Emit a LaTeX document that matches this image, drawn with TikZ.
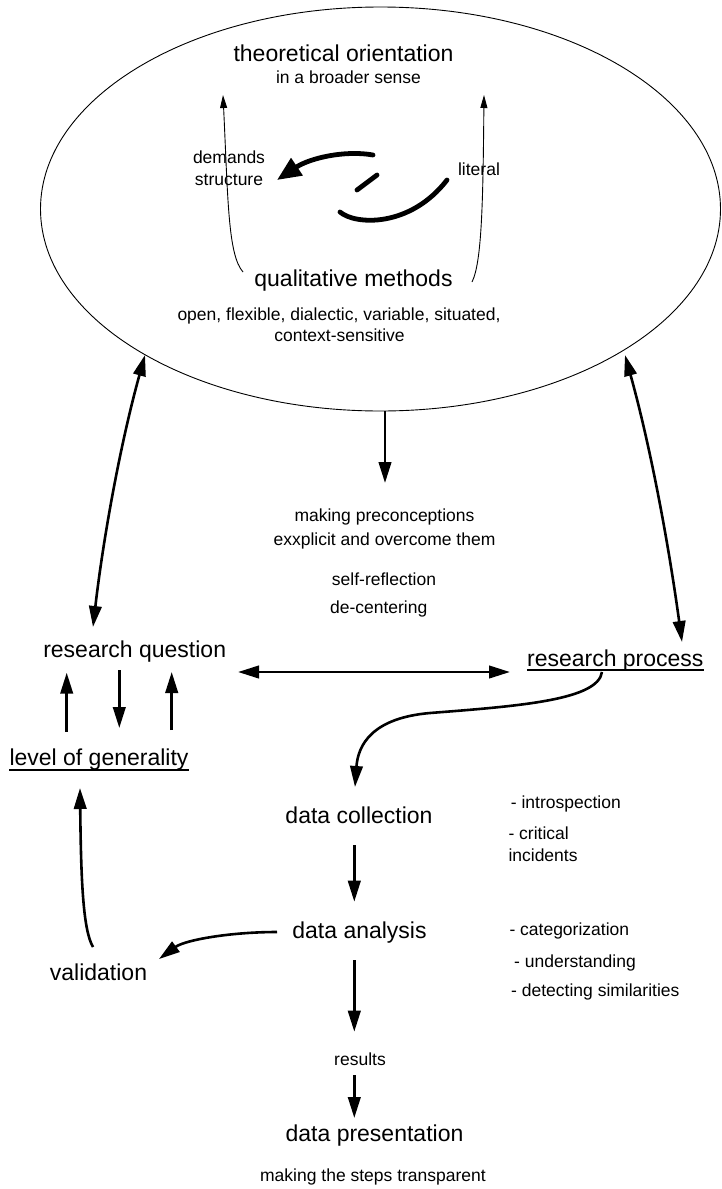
\documentclass[tikz,border=0pt]{standalone}
\usepackage{fontspec}
\setmainfont{Liberation Sans}
\usetikzlibrary{arrows.meta,shapes.geometric}
\tikzset{
  big/.style={font=\fontsize{23}{27}\selectfont, inner sep=0pt, anchor=base},
  small/.style={font=\fontsize{17.5}{22}\selectfont, inner sep=0pt, anchor=base},
  leftsmall/.style={small, anchor=base west},
  arr/.style={line width=2.6pt, -{Triangle[length=21pt,width=12.5pt]}},
  dblarr/.style={line width=2.6pt, {Triangle[length=21pt,width=12.5pt]}-{Triangle[length=21pt,width=12.5pt]}},
  thinarr/.style={line width=0.9pt, -{Triangle[length=13pt,width=7pt]}},
  heavy/.style={line width=4.8pt, line cap=round},
  uline/.style={line width=1.8pt},
}
\begin{document}
\begin{tikzpicture}[x=1pt,y=-1pt]
\useasboundingbox (0,0) rectangle (721,1189);
% ellipse
\node[draw, ellipse, line width=0.9pt, minimum width=680pt, minimum height=404pt, inner sep=0pt] (ell) at (380.5,209) {};
% texts inside ellipse
\node[big] (theo) at (343.5,61) {theoretical orientation};
\node[small] (broad) at (348.5,83.3) {in a broader sense};
\node[small] (dem) at (229,163.3) {demands};
\node[small] (struc) at (229,185) {structure};
\node[small] (lit) at (479,175) {literal};
\node[big] (qual) at (353.5,286.7) {qualitative methods};
\node[small] (open) at (339,320) {open, flexible, dialectic, variable, situated,};
\node[small] (ctx) at (339.5,341.7) {context-sensitive};
% middle texts
\node[small] (mak) at (384.5,521.7) {making preconceptions};
\node[small] (exx) at (384.5,545) {exxplicit and overcome them};
\node[small] (self) at (384,585) {self-reflection};
\node[small] (dec) at (378.7,613) {de-centering};
% main nodes
\node[big] (rq) at (134.7,657.7) {research question};
\node[big] (rp) at (615.3,666.7) {research process};
\node[big] (lg) at (99,765) {level of generality};
\node[big] (dc) at (359,823.3) {data collection};
\node[big] (da) at (359.5,938.3) {data analysis};
\node[big] (val) at (98.5,980) {validation};
\node[small] (res) at (360,1065) {results};
\node[big] (dp) at (374.5,1141.7) {data presentation};
\node[small] (steps) at (373,1181.7) {making the steps transparent};
% side lists
\node[leftsmall] (i1) at (510.7,808.3) {- introspection};
\node[leftsmall] (i2) at (508.3,839.3) {- critical};
\node[leftsmall] (i3) at (508.3,861.7) {incidents};
\node[leftsmall] (a1) at (509.3,935) {- categorization};
\node[leftsmall] (a2) at (514,967.3) {- understanding};
\node[leftsmall] (a3) at (511,996) {- detecting similarities};
% underlines
\draw[uline] ([yshift=-3.5pt]rp.base west) -- ([yshift=-3.5pt]rp.base east);
\draw[uline] ([yshift=-5pt]lg.base west) -- ([yshift=-5pt]lg.base east);
% coordinates for connector ends
\coordinate (tlA) at (243,272); \coordinate (tlB) at (223,95);
\coordinate (trA) at (472,282); \coordinate (trB) at (484,95);
\coordinate (hA) at (373,155); \coordinate (hB) at (277,180);
\coordinate (sA) at (357,190); \coordinate (sB) at (377,175);
\coordinate (cA) at (340,212); \coordinate (cB) at (447,180);
\coordinate (eDown) at (385,411); \coordinate (mTop) at (385,483);
\coordinate (eL) at (145,355); \coordinate (rqT) at (93,627);
\coordinate (eR) at (625,355); \coordinate (rpT) at (682,642);
\coordinate (rqR) at (238,672); \coordinate (rpL) at (510,672);
\coordinate (u1a) at (66.7,731.7); \coordinate (u1b) at (66.7,672.7);
\coordinate (d1a) at (119.3,670); \coordinate (d1b) at (119.3,728);
\coordinate (u2a) at (171.7,730); \coordinate (u2b) at (171.7,672);
\coordinate (rpS) at (602,672); \coordinate (sMid) at (430,713); \coordinate (dcN) at (355,787);
\coordinate (valN) at (93,947); \coordinate (lgS) at (80,788);
\coordinate (daW) at (277,932); \coordinate (valE) at (159,959);
\coordinate (dcS) at (354.3,845); \coordinate (daN) at (354.3,901.7);
\coordinate (daS) at (354.3,960); \coordinate (resN) at (354.3,1031.7);
\coordinate (resS) at (354.3,1075); \coordinate (dpN) at (354.3,1118);
% inside ellipse
\draw[thinarr] (tlA) .. controls (228,255) and (228,200) .. (tlB);
\draw[thinarr] (trA) .. controls (482,262) and (483,200) .. (trB);
\draw[heavy, -{Triangle[length=24pt,width=20pt]}] (hA) .. controls (345,150) and (310,158) .. (hB);
\draw[heavy] (sA) -- (sB);
\draw[heavy] (cA) .. controls (355,225) and (410,228) .. (cB);
% connectors
\draw[arr] (eDown) -- (mTop);
\draw[dblarr] (eL) .. controls (120,445) and (103,540) .. (rqT);
\draw[dblarr] (eR) .. controls (650,445) and (668,540) .. (rpT);
\draw[dblarr] (rqR) -- (rpL);
\draw[arr] (u1a) -- (u1b);
\draw[arr] (d1a) -- (d1b);
\draw[arr] (u2a) -- (u2b);
\draw[arr] (rpS) .. controls (598,700) and (520,706) .. (sMid) .. controls (372,718) and (358,745) .. (dcN);
\draw[arr] (valN) .. controls (83,930) and (81,880) .. (lgS);
\draw[arr] (daW) .. controls (230,932) and (185,940) .. (valE);
\draw[arr] (dcS) -- (daN);
\draw[arr] (daS) -- (resN);
\draw[arr] (resS) -- (dpN);
\end{tikzpicture}
\end{document}
